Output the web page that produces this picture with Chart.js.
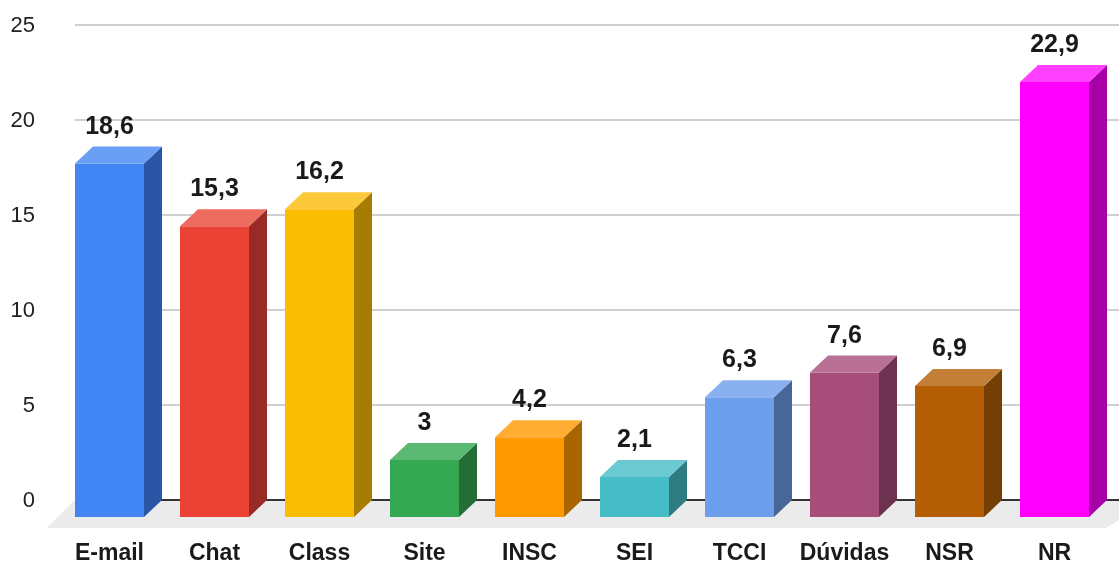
<!DOCTYPE html>
<html>
<head>
<meta charset="utf-8">
<script src="https://cdn.jsdelivr.net/npm/chart.js@4"></script>
<style>
  html, body { margin: 0; padding: 0; background: #fff; }
  #wrap { width: 1119px; height: 562px; }
</style>
</head>
<body>
<div id="wrap"><canvas id="chart" width="1119" height="562"></canvas></div>
<script>
// data
var categories = ['E-mail', 'Chat', 'Class', 'Site', 'INSC', 'SEI', 'TCCI', 'Dúvidas', 'NSR', 'NR'];
var values = [18.6, 15.3, 16.2, 3, 4.2, 2.1, 6.3, 7.6, 6.9, 22.9];
var yTicks = [0, 5, 10, 15, 20, 25];

// colours: front face, side face, top face
var frontColors = ['#4285f4', '#ea4335', '#fbbc04', '#34a853', '#ff9900', '#46bdc6', '#6d9eeb', '#a64d79', '#b45f06', '#ff00ff'];
var sideColors  = ['#2b56a6', '#982b23', '#a67c03', '#226e36', '#a86500', '#2e7b81', '#476799', '#6c3250', '#753e04', '#a600a6'];
var topColors   = ['#6a9ff6', '#ee6b60', '#fcc93a', '#5cb974', '#ffad33', '#6bcad1', '#8ab1ef', '#b87194', '#c37f38', '#ff40ff'];

var DX = 18, DY = 17;      // depth of the bars
var FLOOR_FRONT = 11;      // floor sticks out in front of the bars

function fmt(v) {
    return String(v).replace('.', ',');
}

var depthPlugin = {
    id: 'depth3d',
    beforeDatasetsDraw: function(chart) {
        var ctx = chart.ctx;
        var area = chart.chartArea;
        var y = chart.scales.y;
        var back0 = y.getPixelForValue(0) - DY;
        var left = area.left + DX;

        ctx.save();
        // floor
        ctx.fillStyle = '#ebebeb';
        ctx.beginPath();
        ctx.moveTo(left, back0);
        ctx.lineTo(chart.width + 40, back0);
        ctx.lineTo(area.right - 1 + DX + FLOOR_FRONT + DY, back0);
        ctx.lineTo(area.right - 1, back0 + DY + FLOOR_FRONT);
        ctx.lineTo(left - DY - FLOOR_FRONT, back0 + DY + FLOOR_FRONT);
        ctx.closePath();
        ctx.fill();

        // back wall grid lines
        ctx.strokeStyle = '#d0d0d0';
        ctx.lineWidth = 2;
        yTicks.forEach(function(t) {
            if (t === 0) return;
            var py = Math.round(y.getPixelForValue(t) - DY);
            ctx.beginPath();
            ctx.moveTo(left, py);
            ctx.lineTo(chart.width, py);
            ctx.stroke();
        });
        ctx.strokeStyle = '#333333';
        ctx.lineWidth = 2;
        ctx.beginPath();
        ctx.moveTo(left, Math.round(back0));
        ctx.lineTo(chart.width, Math.round(back0));
        ctx.stroke();

        // tick labels
        ctx.fillStyle = '#222222';
        ctx.font = '22px "Liberation Sans", Arial, sans-serif';
        ctx.textAlign = 'right';
        ctx.textBaseline = 'middle';
        yTicks.forEach(function(t) {
            ctx.fillText(String(t), 35, y.getPixelForValue(t) - DY + 1);
        });
        ctx.restore();
    },
    afterDatasetsDraw: function(chart) {
        var ctx = chart.ctx;
        var meta = chart.getDatasetMeta(0);
        ctx.save();
        meta.data.forEach(function(bar, i) {
            var p = bar.getProps(['x', 'y', 'base', 'width'], true);
            var x1 = p.x - p.width / 2, x2 = p.x + p.width / 2;
            var top = p.y, bot = p.base;

            // side
            ctx.fillStyle = sideColors[i];
            ctx.beginPath();
            ctx.moveTo(x2, top);
            ctx.lineTo(x2 + DX, top - DY);
            ctx.lineTo(x2 + DX, bot - DY);
            ctx.lineTo(x2, bot);
            ctx.closePath();
            ctx.fill();

            // top
            ctx.fillStyle = topColors[i];
            ctx.beginPath();
            ctx.moveTo(x1, top);
            ctx.lineTo(x1 + DX, top - DY);
            ctx.lineTo(x2 + DX, top - DY);
            ctx.lineTo(x2, top);
            ctx.closePath();
            ctx.fill();

            // value label
            ctx.fillStyle = '#1a1a1a';
            ctx.font = 'bold 25px "Liberation Sans", Arial, sans-serif';
            ctx.textAlign = 'center';
            ctx.textBaseline = 'alphabetic';
            ctx.fillText(fmt(values[i]), p.x, top - DY - 13);
        });
        ctx.restore();
    }
};

window.onload = function() {
    var ctx = document.getElementById('chart').getContext('2d');
    window.myBar = new Chart(ctx, {
        type: 'bar',
        data: {
            labels: categories,
            datasets: [{
                data: values,
                backgroundColor: frontColors,
                borderWidth: 0,
                categoryPercentage: 1,
                barPercentage: 0.657
            }]
        },
        options: {
            responsive: false,
            animation: false,
            layout: {
                padding: { left: 57, right: 12, top: 42, bottom: -28 }
            },
            plugins: {
                legend: { display: false },
                tooltip: { enabled: false }
            },
            scales: {
                x: {
                    grid: { display: false, drawTicks: false },
                    border: { display: false },
                    ticks: {
                        color: '#1a1a1a',
                        padding: 25,
                        maxRotation: 0,
                        font: { family: '"Liberation Sans", Arial, sans-serif', size: 23, weight: 'bold', lineHeight: 1 }
                    }
                },
                y: {
                    display: false,
                    min: 0,
                    max: 25
                }
            }
        },
        plugins: [depthPlugin]
    });
};
</script>
</body>
</html>
